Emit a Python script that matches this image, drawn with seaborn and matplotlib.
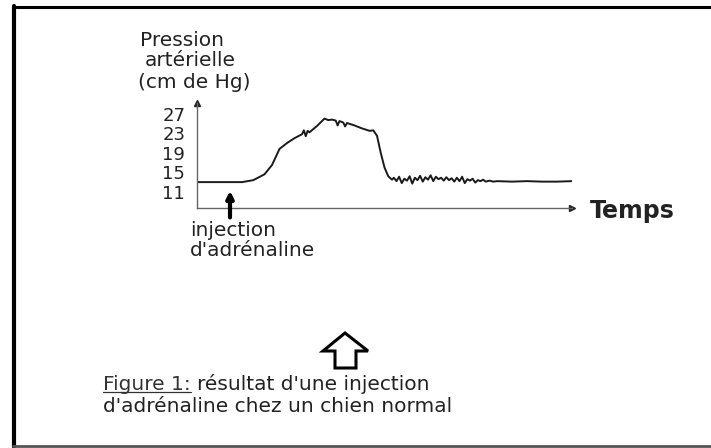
import seaborn as sns
import matplotlib.pyplot as plt
from matplotlib.lines import Line2D
from matplotlib.patches import Polygon

# temps (unités arbitraires) et pression artérielle (cm de Hg)
temps = [0, 12, 15, 18, 20, 22, 24, 26, 28, 28.5, 29, 29.5, 30, 32, 34, 35, 36,
         37, 37.5, 38, 39, 39.5, 40, 42, 44, 46, 47, 48, 49, 50, 51, 52,
         52.5, 53.2, 53.9, 54.6, 55.3, 56.0, 56.7, 57.4, 58.1, 58.8, 59.5,
         60.2, 60.9, 61.6, 62.3, 63.0, 63.7, 64.4, 65.1, 65.8, 66.5, 67.2,
         67.9, 68.6, 69.3, 70.0, 70.7, 71.4, 72.1, 72.8, 73.5, 74.2, 74.9,
         75.6, 76.3, 77.0, 78, 79, 80, 84, 88, 92, 96, 100]
pression = [13.0, 13.0, 13.4, 14.6, 16.5, 19.8, 21.0, 22.0, 22.8, 23.6, 22.4,
            23.5, 23.2, 24.5, 26.0, 25.7, 25.8, 25.6, 24.6, 25.5, 25.2, 24.4,
            25.1, 24.6, 24.0, 23.5, 23.6, 22.5, 19.0, 16.0, 14.2, 13.5,
            13.9, 13.2, 14.1, 12.8, 13.7, 13.3, 14.2, 12.7, 13.9, 13.4, 14.3,
            13.1, 14.0, 13.5, 14.4, 13.2, 14.1, 13.6, 13.9, 13.3, 14.0, 13.4,
            13.8, 13.1, 13.9, 13.2, 14.1, 12.8, 13.6, 13.3, 13.7, 12.9, 13.4,
            13.2, 13.5, 13.1, 13.3, 13.1, 13.2, 13.1, 13.2, 13.1, 13.1, 13.2]
graduations = [11, 15, 19, 23, 27]
t_injection = 8.8

W, H = 711, 448
FS = 14.5


def fx(px):
    return px / W


def fy(py):
    return 1 - py / H


sns.set_style('white')
plt.rcParams['font.family'] = ['DejaVu Sans']

fig = plt.figure(figsize=(W / 100, H / 100), dpi=100)
ax = fig.add_axes([fx(197), fy(208), fx(572) - fx(197), fy(103) - fy(208)])

sns.lineplot(x=temps, y=pression, ax=ax, color='#1a1a1a', linewidth=1.4)

ax.set_xlim(0, 100)
ax.set_ylim(7.7, 29.2)
ax.set_yticks(graduations)
ax.set_xticks([])
ax.tick_params(axis='y', length=3, width=1, direction='inout', pad=7,
               labelsize=13, colors='#555', labelcolor='#222')
for s in ['top', 'right']:
    ax.spines[s].set_visible(False)
for s in ['left', 'bottom']:
    ax.spines[s].set_color('#666')
    ax.spines[s].set_linewidth(1)
ax.plot(1, 0, '>', color='#222', markersize=5, transform=ax.transAxes, clip_on=False)
ax.plot(0, 1, '^', color='#222', markersize=4, transform=ax.transAxes, clip_on=False)

# flèche de l'injection
ax.annotate('', xy=(t_injection, 11.8), xytext=(t_injection, 5.2),
            arrowprops=dict(arrowstyle='-|>', lw=3, color='black', mutation_scale=10),
            annotation_clip=False)

fig.text(fx(140), fy(40), 'Pression', fontsize=FS, va='center', color='#222')
fig.text(fx(145), fy(61), 'artérielle', fontsize=FS, va='center', color='#222')
fig.text(fx(138), fy(82), '(cm de Hg)', fontsize=FS, va='center', color='#222')
fig.text(fx(590), fy(211), 'Temps', fontsize=17, fontweight='bold', va='center', color='#222')
fig.text(fx(190), fy(230), 'injection', fontsize=FS, va='center', color='#222')
fig.text(fx(190), fy(250), "d'adrénaline", fontsize=FS, va='center', color='#222')

# grosse flèche creuse
fleche = [(345, 333), (323, 351), (335, 351), (335, 368), (356, 368), (356, 351), (368, 351)]
fig.add_artist(Polygon([(fx(a), fy(b)) for a, b in fleche], closed=True,
                       facecolor='white', edgecolor='black', lw=2.2, transform=fig.transFigure))

t_fig = fig.text(fx(103), fy(384), 'Figure 1:', fontsize=FS, va='center', color='#333')
fig.canvas.draw()
bb = t_fig.get_window_extent().transformed(fig.transFigure.inverted())
fig.text(bb.x1 + fx(6), fy(384), "résultat d'une injection", fontsize=FS, va='center', color='#222')
fig.text(fx(103), fy(406), "d'adrénaline chez un chien normal", fontsize=FS, va='center', color='#222')
fig.add_artist(Line2D([bb.x0, bb.x1], [bb.y0 + 0.004, bb.y0 + 0.004], color='#333', lw=0.9))

# cadre
fig.add_artist(Line2D([fx(14), fx(14)], [fy(6), fy(447)], color='black', lw=3))
fig.add_artist(Line2D([fx(13), 1], [fy(7), fy(7)], color='black', lw=2.2))
fig.add_artist(Line2D([fx(13), 1], [fy(446), fy(446)], color='#555', lw=2))

fig.savefig('out.png', dpi=100)
